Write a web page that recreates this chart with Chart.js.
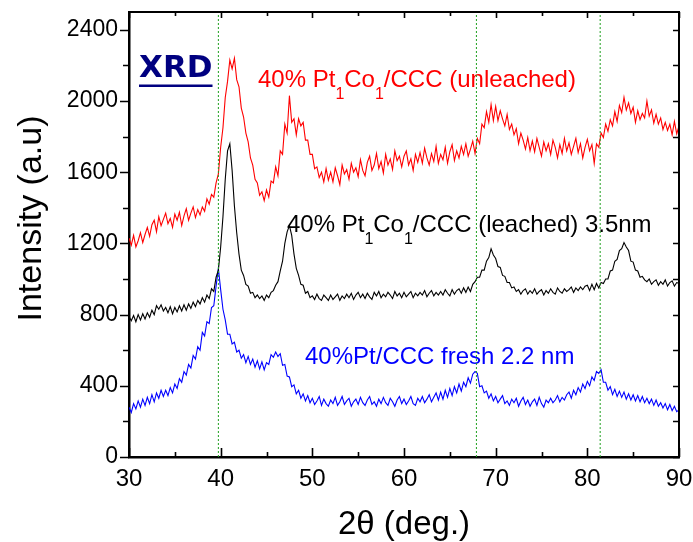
<!DOCTYPE html>
<html>
<head>
<meta charset="utf-8">
<script src="https://cdn.jsdelivr.net/npm/chart.js@4.4.1/dist/chart.umd.min.js"></script>
<style>
  html, body { margin: 0; padding: 0; background: #fff; }
  canvas { display: block; }
</style>
</head>
<body>
<canvas id="xrdChart" width="693" height="542"></canvas>
<script>
// 2-theta grid: 30 .. 90 deg, every 0.25 deg
const angleStart = 30;
const angleStep = 0.25;

// 40% Pt1Co1/CCC (unleached)
const unleached = [
  1230, 1190, 1245, 1180, 1215, 1260, 1205, 1250,
  1290, 1240, 1305, 1330, 1265, 1350, 1300, 1335,
  1370, 1310, 1340, 1290, 1365, 1330, 1375, 1300,
  1355, 1395, 1330, 1370, 1405, 1345, 1390, 1360,
  1405, 1380, 1450, 1420, 1475, 1460, 1540, 1590,
  1740, 1850, 2020, 2110, 2230, 2180, 2240, 2120,
  2080, 1960, 1910, 1820, 1770, 1680, 1640, 1560,
  1540, 1470, 1490, 1440, 1500, 1460, 1550, 1540,
  1630, 1580, 1720, 1700, 1870, 1820, 2030, 1880,
  1900, 1810, 1900, 1860, 1880, 1780, 1780, 1700,
  1700, 1620, 1630, 1570, 1600, 1545, 1620, 1555,
  1600, 1545, 1625, 1580, 1530, 1640, 1590, 1615,
  1560, 1650, 1600, 1625, 1575, 1670, 1610, 1580,
  1655, 1690, 1610, 1640, 1705, 1620, 1660, 1595,
  1700, 1640, 1675, 1615, 1720, 1665, 1690, 1630,
  1690, 1720, 1640, 1675, 1610, 1700, 1655, 1710,
  1650, 1735, 1680, 1640, 1705, 1660, 1745, 1650,
  1700, 1670, 1740, 1650, 1715, 1755, 1665, 1720,
  1680, 1745, 1700, 1760, 1690, 1730, 1775, 1705,
  1790, 1760, 1870, 1850, 1940, 1880, 1980, 1890,
  1970, 1890, 1945, 1900, 1860, 1925, 1840, 1870,
  1810, 1845, 1760, 1820, 1780, 1730, 1795, 1720,
  1775, 1715, 1790, 1740, 1690, 1770, 1720, 1760,
  1700, 1780, 1740, 1680, 1755, 1705, 1790, 1720,
  1765, 1700, 1745, 1790, 1710, 1760, 1680, 1740,
  1785, 1720, 1755, 1650, 1760, 1740, 1820, 1795,
  1870, 1830, 1895, 1860, 1940, 1885, 1975, 1935,
  2020, 1950, 1990, 1930, 1965, 1880, 1945, 1895,
  1930, 1905, 2000, 1915, 1950, 1875, 1925, 1870,
  1905, 1840, 1880, 1835, 1870, 1810, 1885, 1815,
  1860
];

// 40% Pt1Co1/CCC (leached) 3.5nm
const leached = [
  790, 765, 795, 760, 800, 770, 805, 775,
  810, 785, 825, 800, 850, 830, 855, 820,
  840, 810, 845, 805, 840, 815, 850, 820,
  855, 825, 860, 835, 870, 845, 880, 860,
  895, 870, 910, 890, 945, 930, 1010, 1050,
  1180, 1350, 1560, 1720, 1760, 1610, 1410, 1260,
  1140, 1050, 1020, 970, 960, 920, 925, 895,
  910, 890, 905, 880, 910, 895, 925, 935,
  965, 985, 1045, 1100, 1200, 1265, 1300, 1245,
  1140, 1060, 1020, 970, 965, 920, 930, 895,
  905, 885, 915, 890, 880, 910, 895, 880,
  910, 885, 900, 915, 880, 905, 890, 915,
  895, 920, 885, 910, 925, 895, 915, 890,
  920, 900, 885, 925, 905, 930, 895, 915,
  900, 925, 910, 890, 930, 905, 920, 895,
  925, 900, 915, 930, 895, 920, 905, 925,
  910, 935, 900, 920, 935, 905, 925, 910,
  930, 910, 940, 920, 905, 940, 915, 935,
  945, 920, 950, 925, 955, 930, 970, 985,
  1010, 1010, 1050, 1050, 1100, 1120, 1170, 1135,
  1115, 1070, 1065, 1020, 1015, 980, 980, 950,
  955, 930, 940, 915, 935, 945, 915, 935,
  920, 945, 915, 930, 940, 910, 935, 920,
  945, 925, 915, 950, 930, 920, 945, 930,
  940, 955, 925, 950, 935, 955, 940, 960,
  965, 935, 970, 940, 975, 950, 980, 975,
  1000, 1000, 1045, 1050, 1100, 1110, 1160, 1170,
  1205, 1180, 1160, 1100, 1095, 1050, 1045, 1010,
  1015, 995, 985, 1000, 970, 985, 995, 965,
  985, 970, 995, 960, 980, 990, 960, 980,
  975
];

// 40%Pt/CCC fresh 2.2 nm
const fresh = [
  280, 250, 300, 270, 315, 280, 325, 290,
  335, 300, 350, 310, 360, 330, 375, 340,
  375, 345, 390, 360, 410, 385, 440, 420,
  480, 460, 520, 500, 570, 550, 620, 600,
  700, 680, 760, 750, 840, 850, 960, 1060,
  940, 830, 770, 690, 690, 635, 645, 590,
  600, 555, 575, 530, 565, 520, 550, 505,
  540, 495, 535, 490, 530, 520, 575, 560,
  590, 565, 580, 515, 520, 455, 450, 395,
  405, 355, 375, 330, 355, 315, 345, 305,
  330, 295, 315, 340, 290, 325, 300, 285,
  320, 300, 335, 290, 310, 340, 295, 315,
  330, 285, 310, 325, 295, 335, 305, 290,
  320, 340, 295, 310, 285, 325, 300, 335,
  305, 290, 330, 310, 285, 320, 340, 300,
  325, 295, 315, 340, 300, 290, 330, 310,
  340, 305, 325, 350, 310, 335, 360, 320,
  365, 325, 375, 335, 385, 345, 395, 360,
  410, 370, 420, 395, 445, 415, 465, 480,
  470, 395, 400, 360, 370, 330, 355, 315,
  340, 305, 325, 345, 300, 315, 290, 325,
  305, 330, 285, 315, 335, 295, 320, 285,
  310, 325, 290, 335, 300, 280, 320, 305,
  330, 305, 320, 345, 310, 335, 320, 350,
  365, 330, 375, 350, 390, 365, 410, 385,
  425, 400, 450, 430, 480, 470, 490, 420,
  420, 375, 395, 350, 380, 340, 370, 335,
  365, 325, 355, 320, 350, 315, 345, 310,
  340, 305, 330, 300, 325, 290, 320, 285,
  305, 275, 300, 265, 295, 260, 285, 255,
  265
];

// reference peak positions (green dotted lines)
const peakLines = [39.75, 67.9, 81.4];

const xTicks = [30, 40, 50, 60, 70, 80, 90];
const yTicks = [0, 400, 800, 1200, 1600, 2000, 2400];
const xMin = 30, xMax = 90, yMin = 0, yMax = 2500;

const FONT = '"Liberation Sans", Arial, sans-serif';

function toPoints(values) {
  return values.map((v, i) => ({ x: angleStart + i * angleStep, y: v }));
}

const curveStyle = { borderWidth: 1.1, pointRadius: 0, tension: 0, fill: false };

const datasets = [
  Object.assign({ data: toPoints(unleached), borderColor: '#ff0000' }, curveStyle),
  Object.assign({ data: toPoints(leached), borderColor: '#000000' }, curveStyle),
  Object.assign({ data: toPoints(fresh), borderColor: '#0000ff' }, curveStyle)
];

peakLines.forEach(p => {
  datasets.unshift({
    data: [{ x: p, y: yMin }, { x: p, y: yMax }],
    borderColor: '#1fa01f',
    borderWidth: 1,
    borderDash: [2, 2],
    pointRadius: 0
  });
});

// text with subscripts
function drawRich(ctx, parts, x, y, color, size) {
  ctx.fillStyle = color;
  ctx.textAlign = 'left';
  ctx.textBaseline = 'alphabetic';
  parts.forEach(p => {
    ctx.font = (p.sub ? 16 : size) + 'px ' + FONT;
    ctx.fillText(p.t, x, p.sub ? y + 12 : y);
    x += ctx.measureText(p.t).width;
  });
}

const decorations = {
  id: 'decorations',
  beforeDatasetsDraw(chart) {
    const ctx = chart.ctx;
    ctx.save();
    // XRD tag
    ctx.font = 'bold 31px "DejaVu Sans", Verdana, sans-serif';
    ctx.fillStyle = '#000080';
    ctx.textAlign = 'left';
    ctx.textBaseline = 'alphabetic';
    ctx.fillText('XRD', 139, 77);
    const w = ctx.measureText('XRD').width;
    ctx.fillRect(139, 84.5, w, 2.5);

    drawRich(ctx, [{ t: '40% Pt' }, { t: '1', sub: true }, { t: 'Co' }, { t: '1', sub: true }, { t: '/CCC (unleached)' }], 258, 87, '#ff0000', 24);
    drawRich(ctx, [{ t: '40% Pt' }, { t: '1', sub: true }, { t: 'Co' }, { t: '1', sub: true }, { t: '/CCC (leached) 3.5nm' }], 287, 232, '#000000', 24);
    drawRich(ctx, [{ t: '40%Pt/CCC fresh 2.2 nm' }], 305, 364, '#0000ff', 24);
    ctx.restore();
  },
  afterDraw(chart) {
    const ctx = chart.ctx;
    const { left, right, top, bottom } = chart.chartArea;
    const xs = chart.scales.x, ys = chart.scales.y;
    ctx.save();
    ctx.strokeStyle = '#000';
    ctx.lineWidth = 2;
    // top and right frame
    ctx.beginPath();
    ctx.moveTo(left, top); ctx.lineTo(right, top); ctx.lineTo(right, bottom);
    ctx.stroke();

    ctx.lineWidth = 1.6;
    ctx.beginPath();
    for (let v = xMin; v <= xMax; v += 5) {
      const px = Math.round(xs.getPixelForValue(v)) + 0.5;
      const major = v % 10 === 0;
      ctx.moveTo(px, bottom); ctx.lineTo(px, bottom - (major ? 9 : 5));
      ctx.moveTo(px, top); ctx.lineTo(px, top + (major ? 6 : 4));
    }
    for (let v = yMin; v <= yMax; v += 200) {
      const py = Math.round(ys.getPixelForValue(v)) + 0.5;
      const major = v % 400 === 0;
      ctx.moveTo(left, py); ctx.lineTo(left - (major ? 9 : 6), py);
      ctx.moveTo(right, py); ctx.lineTo(right - 6, py);
    }
    ctx.stroke();

    // axis titles
    ctx.fillStyle = '#000';
    ctx.textBaseline = 'alphabetic';
    ctx.textAlign = 'center';
    ctx.font = '33px ' + FONT;
    ctx.fillText('2\u03B8 (deg.)', (left + right) / 2, 534);
    ctx.translate(41, 218.5);
    ctx.rotate(-Math.PI / 2);
    ctx.font = '34px ' + FONT;
    ctx.fillText('Intensity (a.u)', 0, 0);
    ctx.restore();
  }
};

new Chart(document.getElementById('xrdChart'), {
  type: 'line',
  data: { datasets },
  options: {
    responsive: false,
    animation: false,
    devicePixelRatio: 1,
    layout: { padding: { top: 12, right: 14, left: 0, bottom: 0 } },
    plugins: { legend: { display: false }, tooltip: { enabled: false } },
    scales: {
      x: {
        type: 'linear',
        min: xMin,
        max: xMax,
        afterBuildTicks: s => { s.ticks = xTicks.map(v => ({ value: v })); },
        afterFit: s => { s.height = 85; s.paddingLeft = 0; s.paddingRight = 0; },
        grid: { display: false, drawTicks: false },
        border: { display: true, color: '#000', width: 2.5 },
        ticks: { font: { family: FONT, size: 24 }, color: '#000', padding: 8, maxRotation: 0, autoSkip: false, callback: v => String(v) }
      },
      y: {
        type: 'linear',
        min: yMin,
        max: yMax,
        afterBuildTicks: s => { s.ticks = yTicks.map(v => ({ value: v })); },
        afterFit: s => { s.width = 129; s.paddingTop = 0; s.paddingBottom = 0; },
        grid: { display: false, drawTicks: false },
        border: { display: true, color: '#000', width: 2.5 },
        ticks: { font: { family: FONT, size: 23 }, color: '#000', padding: 11, callback: v => String(v) }
      }
    }
  },
  plugins: [decorations]
});
</script>
</body>
</html>
